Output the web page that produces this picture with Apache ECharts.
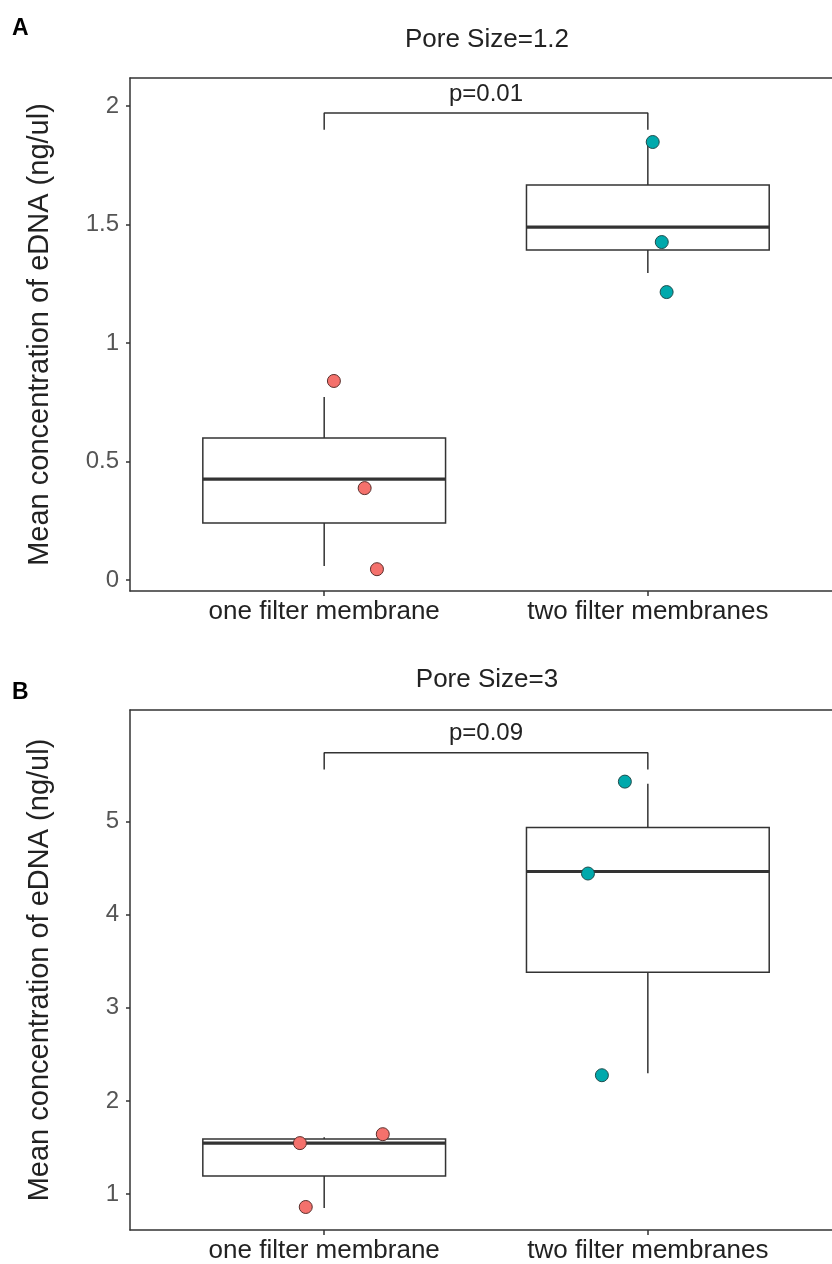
<!DOCTYPE html>
<html>
<head>
<meta charset="utf-8">
<script src="https://cdn.jsdelivr.net/npm/echarts@6/dist/echarts.min.js"></script>
<style>
  html, body { margin: 0; padding: 0; background: #fff; }
  #chart { width: 832px; height: 1264px; }
</style>
</head>
<body>
<div id="chart"></div>
<script>
// categories (placed at x = 1 and 2 on a value axis, ggplot-style expansion, right side cropped)
const catNames = ["one filter membrane", "two filter membranes"];
const catPos = [1, 2];
const xRange = [0.4, 2.569];
const panelTitles = ["Pore Size=1.2", "Pore Size=3"];
const panelLetters = ["A", "B"];
const yName = "Mean concentration of eDNA (ng/ul)";

// box stats: [x, lowerWhisker, q1, median, q3, upperWhisker]
const boxA = [[1, 0.059, 0.241, 0.426, 0.599, 0.772], [2, 1.295, 1.392, 1.489, 1.667, 1.84]];
const boxB = [[1, 0.850, 1.193, 1.547, 1.590, 1.611], [2, 2.298, 3.381, 4.464, 4.936, 5.407]];

// jittered points [x, value]
const oneA = [[1.030, 0.840], [1.125, 0.388], [1.163, 0.046]];
const twoA = [[2.015, 1.848], [2.043, 1.426], [2.058, 1.215]];
const oneB = [[0.925, 1.547], [1.181, 1.643], [0.943, 0.861]];
const twoB = [[1.929, 5.429], [1.815, 4.442], [1.858, 2.276]];

// significance brackets and p labels
const bracketA = [[1, 1.90], [1, 1.97], [2, 1.97], [2, 1.90]];
const bracketB = [[1, 5.56], [1, 5.74], [2, 5.74], [2, 5.56]];
const pLabelA = [[1.5, 2.05, "p=0.01"]];
const pLabelB = [[1.5, 5.95, "p=0.09"]];

// axis ticks
const yTicksA = [0, 0.5, 1, 1.5, 2];
const yTicksB = [1, 2, 3, 4, 5];
const yRangeA = [-0.046, 2.118];
const yRangeB = [0.614, 6.198];

const FONT = "Liberation Sans, Arial, sans-serif";
const INK = "#333";
const PINK = "#F4716C";
const TEAL = "#00A9AC";

function renderBox(params, api) {
  const x = api.value(0);
  const hw = 0.375;
  const lo = api.coord([x, api.value(1)]);
  const q1 = api.coord([x, api.value(2)]);
  const q3 = api.coord([x, api.value(4)]);
  const hi = api.coord([x, api.value(5)]);
  const tl = api.coord([x - hw, api.value(4)]);
  const br = api.coord([x + hw, api.value(2)]);
  const ml = api.coord([x - hw, api.value(3)]);
  const mr = api.coord([x + hw, api.value(3)]);
  const thin = { stroke: INK, lineWidth: 1.5, fill: null };
  return {
    type: "group",
    children: [
      { type: "line", shape: { x1: hi[0], y1: hi[1], x2: q3[0], y2: q3[1] }, style: thin },
      { type: "line", shape: { x1: q1[0], y1: q1[1], x2: lo[0], y2: lo[1] }, style: thin },
      { type: "rect", shape: { x: tl[0], y: tl[1], width: br[0] - tl[0], height: br[1] - tl[1] },
        style: { stroke: INK, lineWidth: 1.5, fill: "#fff" } },
      { type: "line", shape: { x1: ml[0], y1: ml[1], x2: mr[0], y2: mr[1] },
        style: { stroke: "#333", lineWidth: 3.2 } }
    ]
  };
}

function xAxisFor(gi) {
  return {
    gridIndex: gi, type: "value", min: xRange[0], max: xRange[1], position: "bottom",
    axisLine: { show: true, onZero: false, lineStyle: { color: INK, width: 1.5 } },
    axisTick: { show: true, length: 5, customValues: catPos, lineStyle: { color: INK, width: 1.5 } },
    axisLabel: {
      customValues: catPos, margin: 8, fontSize: 26, fontFamily: FONT, color: "#222",
      formatter: v => catNames[Math.round(v) - 1]
    },
    splitLine: { show: false }
  };
}

// top border of each panel (right border lies outside the crop)
function topAxisFor(gi) {
  return {
    gridIndex: gi, type: "value", min: xRange[0], max: xRange[1], position: "top",
    axisLine: { show: true, onZero: false, lineStyle: { color: INK, width: 1.5 } },
    axisTick: { show: false }, axisLabel: { show: false }, splitLine: { show: false }
  };
}

function yAxisFor(gi, range, ticks) {
  return {
    gridIndex: gi, type: "value", min: range[0], max: range[1],
    name: yName, nameLocation: "middle", nameGap: 76, nameRotate: 90,
    nameTextStyle: { fontSize: 29, fontFamily: FONT, color: "#222" },
    axisLine: { show: true, onZero: false, lineStyle: { color: INK, width: 1.5 } },
    axisTick: { show: true, length: 4, customValues: ticks, lineStyle: { color: INK, width: 1.5 } },
    axisLabel: { customValues: ticks, margin: 11, fontSize: 24, fontFamily: FONT, color: "#555" },
    splitLine: { show: false }
  };
}

function panelSeries(gi, box, one, two, bracket, pLabel) {
  return [
    { type: "custom", xAxisIndex: gi, yAxisIndex: gi, renderItem: renderBox,
      encode: { x: 0, y: [1, 2, 3, 4, 5] }, data: box, z: 2, silent: true },
    { type: "line", xAxisIndex: gi, yAxisIndex: gi, data: bracket, symbol: "none",
      lineStyle: { color: INK, width: 1.5 }, z: 3, silent: true },
    { type: "scatter", xAxisIndex: gi, yAxisIndex: gi, data: one, symbolSize: 13,
      itemStyle: { color: PINK, borderColor: "#5a2f2c", borderWidth: 1, opacity: 1 }, z: 5 },
    { type: "scatter", xAxisIndex: gi, yAxisIndex: gi, data: two, symbolSize: 13,
      itemStyle: { color: TEAL, borderColor: "#1f4d4d", borderWidth: 1, opacity: 1 }, z: 5 },
    { type: "scatter", xAxisIndex: gi, yAxisIndex: gi, data: pLabel, symbolSize: 0,
      itemStyle: { opacity: 1 },
      label: { show: true, position: "inside", formatter: p => p.data[2],
        fontSize: 24, fontFamily: FONT, color: "#222" }, z: 6, silent: true }
  ];
}

const chart = echarts.init(document.getElementById("chart"), null, { renderer: "canvas" });
chart.setOption({
  animation: false,
  backgroundColor: "#fff",
  title: [
    { text: panelTitles[0], left: 482, top: 22, textAlign: "center",
      textStyle: { fontSize: 26, fontWeight: "normal", fontFamily: FONT, color: "#222" } },
    { text: panelTitles[1], left: 482, top: 662, textAlign: "center",
      textStyle: { fontSize: 26, fontWeight: "normal", fontFamily: FONT, color: "#222" } }
  ],
  graphic: [
    { type: "text", left: 12, top: 17, style: { text: panelLetters[0], font: "bold 23px " + FONT, fill: "#000" } },
    { type: "text", left: 12, top: 681, style: { text: panelLetters[1], font: "bold 23px " + FONT, fill: "#000" } }
  ],
  grid: [
    { left: 130, top: 78, right: 0, height: 513 },
    { left: 130, top: 710, right: 0, height: 521 }
  ],
  xAxis: [xAxisFor(0), xAxisFor(1), topAxisFor(0), topAxisFor(1)],
  yAxis: [yAxisFor(0, yRangeA, yTicksA), yAxisFor(1, yRangeB, yTicksB)],
  series: [
    ...panelSeries(0, boxA, oneA, twoA, bracketA, pLabelA),
    ...panelSeries(1, boxB, oneB, twoB, bracketB, pLabelB)
  ]
});
</script>
</body>
</html>
